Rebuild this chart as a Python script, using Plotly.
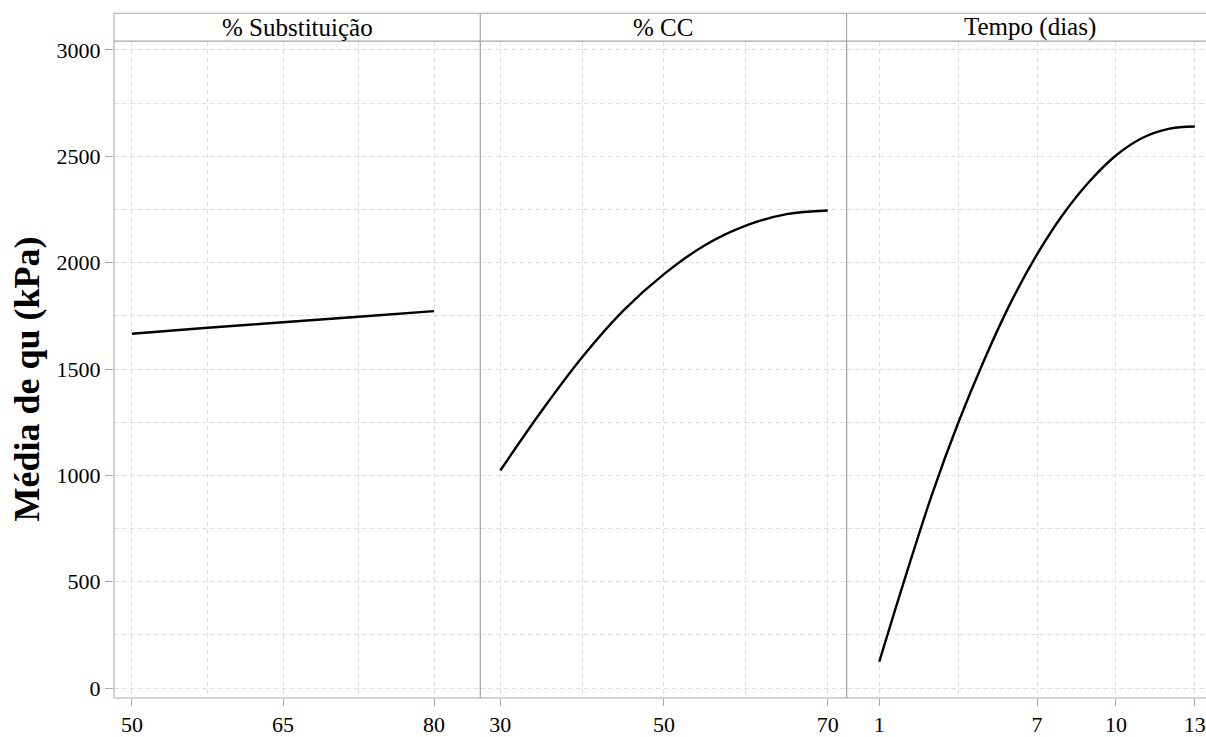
import plotly.graph_objects as go

# Main effects of each factor on mean unconfined compression strength (kPa)
subst_pct = [50, 57.5, 65, 72.5, 80]
subst_qu = [1666, 1694, 1720, 1746, 1772]

cc_pct = [30, 35, 40, 45, 50, 55, 60, 65, 70]
cc_qu = [1023, 1300, 1555, 1773, 1946, 2082, 2174, 2228, 2245]

tempo_dias = [1, 2, 3, 4, 5, 6, 7, 8, 9, 10, 11, 12, 13]
tempo_qu = [124, 525, 908, 1246, 1545, 1812, 2039, 2229, 2383, 2504, 2586, 2629, 2640]

panel_titles = ["% Substituição", "% CC", "Tempo (dias)"]
y_title = "Média de qu (kPa)"

y_ticks = [0, 500, 1000, 1500, 2000, 2500, 3000]
y_minor = [250, 750, 1250, 1750, 2250, 2750]

x_ticks = [[50, 65, 80], [30, 50, 70], [1, 7, 10, 13]]
x_minor = [[57.5, 72.5], [40, 60], [4]]
x_ranges = [[48.22, 84.59], [27.56, 72.32], [-0.24, 13.35]]

W, H = 1206, 737
ML, MR, MT, MB = 114, 0, 41, 32
plot_w = W - ML - MR
panel_px = 367
edges = [0, panel_px / plot_w, 2 * panel_px / plot_w, 1.0]

FONT = "Liberation Serif, Times New Roman, serif"
GRID = "#dedede"
FRAME = "#a6a6a6"
DASH = "5px,3px"

fig = go.Figure()
series = [(subst_pct, subst_qu), (cc_pct, cc_qu), (tempo_dias, tempo_qu)]
for i, (xs, ys) in enumerate(series):
    fig.add_trace(go.Scatter(
        x=xs, y=ys, mode="lines",
        line=dict(color="black", width=2.4, shape="spline", smoothing=1.0),
        xaxis="x" if i == 0 else f"x{i+1}", yaxis="y",
        showlegend=False, hoverinfo="skip",
    ))

layout = dict(
    width=W, height=H,
    margin=dict(l=ML, r=MR, t=MT, b=MB, pad=0),
    paper_bgcolor="white", plot_bgcolor="white",
    font=dict(family=FONT, color="black"),
    yaxis=dict(
        domain=[0, 1], range=[-46.5, 3042], anchor="x",
        tickmode="array", tickvals=y_ticks,
        ticks="outside", ticklen=8, tickwidth=1, tickcolor=FRAME,
        tickfont=dict(family=FONT, size=22, color="black"),
        showgrid=True, gridcolor=GRID, griddash=DASH, gridwidth=1,
        minor=dict(tickmode="array", tickvals=y_minor, showgrid=True,
                   gridcolor=GRID, griddash=DASH, gridwidth=1, ticks=""),
        showline=False, zeroline=False,
    ),
)
for i in range(3):
    key = "xaxis" if i == 0 else f"xaxis{i+1}"
    layout[key] = dict(
        domain=[edges[i], edges[i + 1]], range=x_ranges[i], anchor="y",
        tickmode="array", tickvals=x_ticks[i],
        ticks="outside", ticklen=7, tickwidth=1, tickcolor=FRAME,
        tickfont=dict(family=FONT, size=22, color="black"),
        ticklabeloverflow="allow",
        showgrid=True, gridcolor=GRID, griddash=DASH, gridwidth=1,
        minor=dict(tickmode="array", tickvals=x_minor[i], showgrid=True,
                   gridcolor=GRID, griddash=DASH, gridwidth=1, ticks=""),
        showline=False, zeroline=False,
    )

strip_top = 1 + (MT - 13) / (H - MT - MB)
shapes = []
annotations = []
for i in range(3):
    x0, x1 = edges[i], edges[i + 1]
    if i == 2:
        x1 = 1.01
    # panel frame
    shapes.append(dict(type="rect", xref="paper", yref="paper",
                       x0=x0, x1=x1, y0=0, y1=1,
                       line=dict(color=FRAME, width=1), layer="above"))
    # header strip
    shapes.append(dict(type="rect", xref="paper", yref="paper",
                       x0=x0, x1=x1, y0=1, y1=strip_top,
                       line=dict(color=FRAME, width=1), fillcolor="white",
                       layer="above"))
    cx = edges[i] + panel_px / plot_w / 2
    annotations.append(dict(
        text=panel_titles[i], xref="paper", yref="paper",
        x=cx, y=(1 + strip_top) / 2, xanchor="center", yanchor="middle",
        showarrow=False, font=dict(family=FONT, size=25, color="black"),
    ))

annotations.append(dict(
    text=f"<b>{y_title}</b>", xref="paper", yref="paper",
    x=(27 - ML) / plot_w, y=(H - MB - 383) / (H - MT - MB),
    xanchor="center", yanchor="middle", textangle=-90, showarrow=False,
    font=dict(family=FONT, size=36, color="black"),
))

layout["shapes"] = shapes
layout["annotations"] = annotations
fig.update_layout(**layout)

fig.write_html("out.html")
